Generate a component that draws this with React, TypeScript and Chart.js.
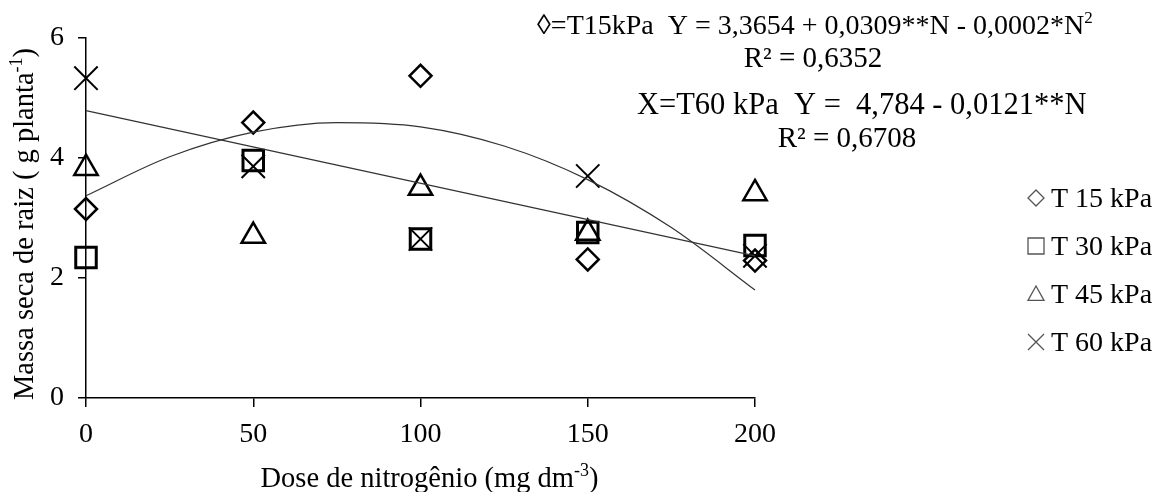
import React, { useEffect, useRef } from 'react';
import { Chart, registerables } from 'chart.js';

Chart.register(...registerables);

// ---- data ----
const doses = [0, 50, 100, 150, 200];
const t15 = [3.15, 4.59, 5.37, 2.31, 2.29];
const t30 = [2.34, 3.96, 2.65, 2.76, 2.54];
const t45 = [3.83, 2.7, 3.5, 2.75, 3.41];
const t60 = [5.33, 3.86, 2.65, 3.7, 2.37];

const curveDoses = [0, 25, 50, 75, 100, 125, 150, 175, 200];
const curveT15 = [3.37, 4.02, 4.43, 4.59, 4.52, 4.2, 3.64, 2.84, 1.8];
const lineDoses = [0, 200];
const lineT60 = [4.79, 2.37];

const xTickValues = [0, 50, 100, 150, 200];
const yTickValues = [0, 2, 4, 6];
const legendLabels = ['T 15 kPa', 'T 30 kPa', 'T 45 kPa', 'T 60 kPa'];
const legendStyles = ['diamond', 'square', 'triangle', 'cross'];

const eq1Main = '\u25CA=T15kPa  Y = 3,3654 + 0,0309**N - 0,0002*N';
const eq1Sup = '2';
const eq1R2 = 'R\u00B2 = 0,6352';
const eq2Main = 'X=T60 kPa  Y =  4,784 - 0,0121**N';
const eq2R2 = 'R\u00B2 = 0,6708';
const xTitleMain = 'Dose de nitrogênio (mg dm';
const xTitleSup = '-3';
const xTitleEnd = ')';
const yTitleMain = 'Massa seca de raiz ( g planta';
const yTitleSup = '-1';
const yTitleEnd = ')';

const FONT = '"Liberation Serif", "Times New Roman", serif';

type Part = { t: string; sup?: boolean };

function drawRich(ctx: CanvasRenderingContext2D, parts: Part[], x: number, y: number, size: number, align: 'left' | 'center' | 'right') {
  const supSize = Math.round(size * 0.62);
  const widths = parts.map((p) => {
    ctx.font = `${p.sup ? supSize : size}px ${FONT}`;
    return ctx.measureText(p.t).width;
  });
  const total = widths.reduce((a, b) => a + b, 0);
  let cx = align === 'left' ? x : align === 'center' ? x - total / 2 : x - total;
  ctx.textAlign = 'left';
  ctx.textBaseline = 'alphabetic';
  parts.forEach((p, i) => {
    ctx.font = `${p.sup ? supSize : size}px ${FONT}`;
    ctx.fillText(p.t, cx, p.sup ? y - size * 0.38 : y);
    cx += widths[i];
  });
}

function drawMarker(ctx: CanvasRenderingContext2D, style: string, x: number, y: number, r: number) {
  ctx.beginPath();
  if (style === 'diamond') {
    ctx.moveTo(x, y - r);
    ctx.lineTo(x + r, y);
    ctx.lineTo(x, y + r);
    ctx.lineTo(x - r, y);
    ctx.closePath();
  } else if (style === 'square') {
    ctx.rect(x - r, y - r, 2 * r, 2 * r);
  } else if (style === 'triangle') {
    ctx.moveTo(x, y - r);
    ctx.lineTo(x + r, y + r * 0.8);
    ctx.lineTo(x - r, y + r * 0.8);
    ctx.closePath();
  } else {
    ctx.moveTo(x - r, y - r);
    ctx.lineTo(x + r, y + r);
    ctx.moveTo(x + r, y - r);
    ctx.lineTo(x - r, y + r);
  }
  ctx.stroke();
}

const overlay = {
  id: 'overlay',
  afterDraw(chart: any) {
    const ctx: CanvasRenderingContext2D = chart.ctx;
    ctx.save();
    ctx.fillStyle = '#000';
    // equations
    drawRich(ctx, [{ t: eq1Main }, { t: eq1Sup, sup: true }], 537, 34, 28, 'left');
    drawRich(ctx, [{ t: eq1R2 }], 813, 67, 29, 'center');
    drawRich(ctx, [{ t: eq2Main }], 637, 114, 30.5, 'left');
    drawRich(ctx, [{ t: eq2R2 }], 847, 147, 29, 'center');

    // axis titles
    const xs = chart.scales.x;
    const xc = (xs.left + xs.right) / 2;
    drawRich(ctx, [{ t: xTitleMain }, { t: xTitleSup, sup: true }, { t: xTitleEnd }], xc + 9, 487, 28.5, 'center');

    ctx.save();
    ctx.translate(33, 224);
    ctx.rotate(-Math.PI / 2);
    drawRich(ctx, [{ t: yTitleMain }, { t: yTitleSup, sup: true }, { t: yTitleEnd }], 0, 0, 28.5, 'center');
    ctx.restore();

    // legend
    const rows = [207, 255, 303, 351];
    ctx.strokeStyle = '#555';
    ctx.lineWidth = 1.3;
    legendLabels.forEach((lab, i) => {
      drawMarker(ctx, legendStyles[i], 1036, rows[i] - 9, 8);
      drawRich(ctx, [{ t: lab }], 1051, rows[i], 28, 'left');
    });
    ctx.restore();
  },
};

function pts(xs: number[], ys: number[]) {
  return xs.map((x, i) => ({ x, y: ys[i] }));
}

export default function App() {
  const ref = useRef<HTMLCanvasElement | null>(null);
  useEffect(() => {
    document.body.style.margin = '0';
    const canvas = ref.current;
    if (!canvas) return;
    const markerCommon = {
      type: 'scatter' as const,
      showLine: false,
      pointBackgroundColor: 'rgba(0,0,0,0)',
      pointBorderColor: '#000',
      clip: false as any,
    };
    const chart = new Chart(canvas, {
      type: 'scatter',
      data: {
        datasets: [
          {
            type: 'line',
            label: 'fit15',
            data: pts(curveDoses, curveT15),
            borderColor: '#333',
            borderWidth: 1.2,
            pointRadius: 0,
            cubicInterpolationMode: 'monotone',
            fill: false,
            clip: false as any,
          },
          {
            type: 'line',
            label: 'fit60',
            data: pts(lineDoses, lineT60),
            borderColor: '#333',
            borderWidth: 1.2,
            pointRadius: 0,
            fill: false,
            clip: false as any,
          },
          { ...markerCommon, label: legendLabels[0], data: pts(doses, t15), pointStyle: 'rectRot', pointRadius: 11, pointBorderWidth: 2.5 },
          { ...markerCommon, label: legendLabels[1], data: pts(doses, t30), pointStyle: 'rect', pointRadius: 14.5, pointBorderWidth: 3 },
          { ...markerCommon, label: legendLabels[2], data: pts(doses, t45), pointStyle: 'triangle', pointRadius: 13.5, pointBorderWidth: 2.5 },
          { ...markerCommon, label: legendLabels[3], data: pts(doses, t60), pointStyle: 'crossRot', pointRadius: 16.5, pointBorderWidth: 2 },
        ] as any,
      },
      options: {
        animation: false,
        responsive: true,
        maintainAspectRatio: false,
        layout: { padding: { left: 0, right: 399, top: 38, bottom: 0 } },
        plugins: { legend: { display: false }, tooltip: { enabled: false } },
        scales: {
          x: {
            type: 'linear',
            min: 0,
            max: 200,
            afterFit: (s: any) => { s.height = 94; },
            afterBuildTicks: (s: any) => { s.ticks = xTickValues.map((v) => ({ value: v })); },
            border: { display: true, color: '#000', width: 1.5 },
            grid: { display: true, drawOnChartArea: false, drawTicks: true, tickLength: 9, color: '#000', lineWidth: 1.5 },
            ticks: { color: '#000', padding: 11, font: { family: FONT, size: 28 }, maxRotation: 0 },
          },
          y: {
            type: 'linear',
            min: 0,
            max: 6,
            afterFit: (s: any) => { s.width = 86; },
            afterBuildTicks: (s: any) => { s.ticks = yTickValues.map((v) => ({ value: v })); },
            border: { display: true, color: '#000', width: 1.5 },
            grid: { display: true, drawOnChartArea: false, drawTicks: true, tickLength: 8, color: '#000', lineWidth: 1.5 },
            ticks: { color: '#000', padding: 14, font: { family: FONT, size: 28 } },
          },
        },
      } as any,
      plugins: [overlay],
    });
    return () => chart.destroy();
  }, []);
  return (
    <div style={{ position: 'fixed', left: 0, top: 0, width: 1154, height: 492, background: '#fff' }}>
      <canvas ref={ref} />
    </div>
  );
}
